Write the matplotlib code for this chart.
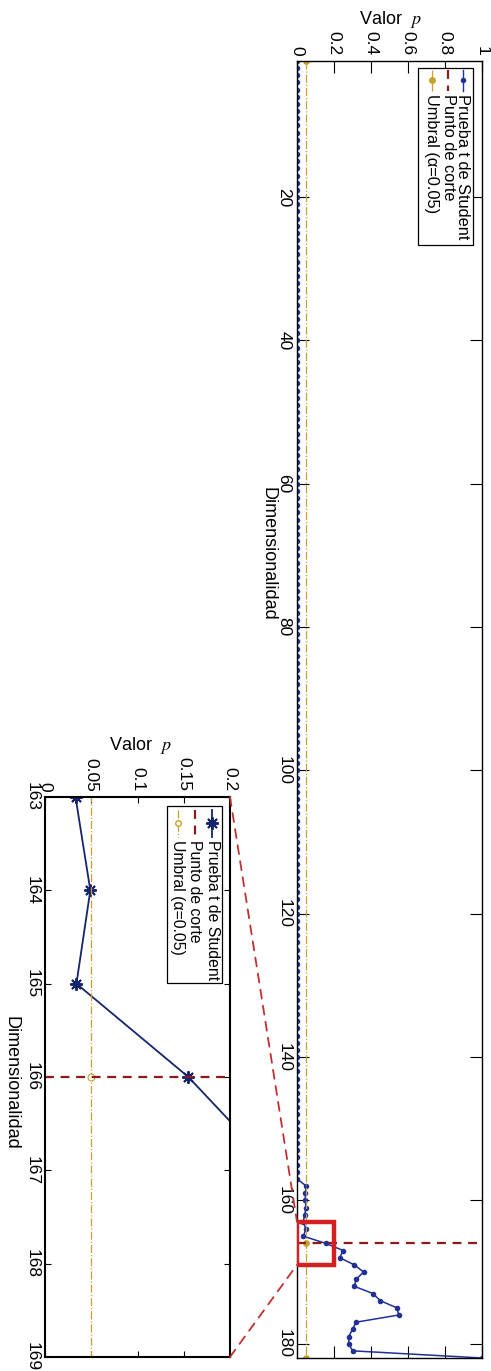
import numpy as np
import matplotlib.pyplot as plt
from matplotlib.patches import Rectangle, ConnectionPatch
from matplotlib.lines import Line2D

plt.rcParams['font.family'] = ['Liberation Sans', 'DejaVu Sans']
plt.rcParams['mathtext.fontset'] = 'stix'

dims = np.arange(1, 183)
# p is ~0 for dimensions 1..157
p_flat = [0.0] * 157
# dimensions 158..182
p_tail = [0.05, 0.045, 0.045, 0.048, 0.042, 0.033, 0.049, 0.034, 0.155,
          0.25, 0.23, 0.31, 0.36, 0.32, 0.31, 0.41, 0.45, 0.54, 0.55,
          0.32, 0.30, 0.28, 0.28, 0.30, 1.0]
p_values = np.array(p_flat + p_tail)

umbral_dims = [1, 166, 182]
umbral_p = [0.05, 0.05, 0.05]
corte_dim = 166
corte_p = [0, 1]

zoom_dims = (163, 169)
zoom_p = (0, 0.2)

main_pticks = [0, 0.2, 0.4, 0.6, 0.8, 1]
main_plabels = ['0', '0.2', '0.4', '0.6', '0.8', '1']
main_dticks = [20, 40, 60, 80, 100, 120, 140, 160, 180]
zoom_pticks = [0, 0.05, 0.1, 0.15, 0.2]
zoom_plabels = ['0', '0.05', '0.1', '0.15', '0.2']
zoom_dticks = [163, 164, 165, 166, 167, 168, 169]

legend_labels = ['Prueba t de Student', 'Punto de corte', 'Umbral (α=0.05)']

BLUE = '#1f3096'
NAVY = '#15246e'
DARKRED = '#8c1b1b'
GOLD = '#c9a02a'
RED = '#d42020'
RED2 = '#c43030'

W, H = 491, 1371


def fx(x):
    return x / W


def fy(y):
    return 1 - y / H


fig = plt.figure(figsize=(W / 100, H / 100), dpi=100)


def style_axes(ax, pticks, plabels, dticks, tick_len, fs, lw):
    ax.set_xticks(pticks)
    ax.set_xticklabels(plabels)
    ax.set_yticks(dticks)
    ax.set_yticklabels([str(d) for d in dticks])
    ax.tick_params(axis='x', direction='in', top=True, bottom=True,
                   labeltop=True, labelbottom=False, length=tick_len,
                   width=0.8, pad=4, labelsize=fs)
    ax.tick_params(axis='y', direction='in', left=True, right=True,
                   length=tick_len, width=0.8, pad=4, labelsize=fs)
    for lbl in ax.get_xticklabels():
        lbl.set_rotation(-90)
    for lbl in ax.get_yticklabels():
        lbl.set_rotation(-90)
        lbl.set_va('center')
    for s in ax.spines.values():
        s.set_linewidth(lw)


def draw_legend(box, xs, y_handle, y_mark, y_text, fs, star=False):
    x0, y0, x1, y1 = box
    fig.add_artist(Rectangle((fx(x0), fy(y1)), fx(x1) - fx(x0),
                             fy(y0) - fy(y1), transform=fig.transFigure,
                             facecolor='white', edgecolor='black', lw=0.9))
    ya, yb = fy(y_handle[0]), fy(y_handle[1])
    # Prueba t de Student
    fig.add_artist(Line2D([fx(xs[0])] * 2, [ya, yb], color=NAVY if star else BLUE,
                          lw=1.3 if star else 1.0, transform=fig.transFigure))
    if star:
        fig.add_artist(Line2D([fx(xs[0])], [fy(y_mark)], color=NAVY,
                              marker=(8, 2, 0), ms=9, mew=1.4,
                              transform=fig.transFigure))
    else:
        fig.add_artist(Line2D([fx(xs[0])], [fy(y_mark)], color=BLUE,
                              marker='o', ms=4, mew=0,
                              transform=fig.transFigure))
    # Punto de corte
    fig.add_artist(Line2D([fx(xs[1])] * 2, [ya, yb], color=DARKRED, lw=1.6,
                          ls=(0, (4, 3)), transform=fig.transFigure))
    # Umbral
    fig.add_artist(Line2D([fx(xs[2])] * 2, [ya, yb], color=GOLD, lw=0.9,
                          ls='-.', transform=fig.transFigure))
    fig.add_artist(Line2D([fx(xs[2])], [fy(y_mark)], color=GOLD, marker='o',
                          ms=4, mfc='white' if star else GOLD, mew=1,
                          transform=fig.transFigure))
    for x, lab in zip(xs, legend_labels):
        fig.text(fx(x), fy(y_text), lab, rotation=-90, rotation_mode='anchor',
                 ha='left', va='center', fontsize=fs)


# ---------------- main axes ----------------
ax = fig.add_axes([fx(297), fy(1358), 185 / W, 1297 / H])
ax.plot(p_values, dims, color=BLUE, lw=1.1, marker='o', ms=4, mew=0)
ax.plot(umbral_p, umbral_dims, color=GOLD, ls='-.', lw=0.9, marker='o',
        ms=4, mfc=GOLD, mew=0.8)
ax.plot(corte_p, [corte_dim] * 2, color=DARKRED, ls=(0, (4, 3)), lw=1.6)
ax.add_patch(Rectangle((zoom_p[0], zoom_dims[0]), zoom_p[1] - zoom_p[0],
                       zoom_dims[1] - zoom_dims[0], fill=False, ec=RED,
                       lw=3.2, zorder=5))
ax.set_xlim(0, 1)
ax.set_ylim(182, 1)
style_axes(ax, main_pticks, main_plabels, main_dticks, 8.5, 12.5, 1.0)

fig.text(fx(390), fy(20), 'Valor  $p$', ha='center', va='center', fontsize=13)
fig.text(fx(268), fy(554), 'Dimensionalidad', rotation=-90, ha='center',
         va='center', fontsize=13)

draw_legend((418, 68, 473, 245), [463, 448, 432], (70, 91), 80, 94, 11.8)

# ---------------- zoom axes ----------------
ax2 = fig.add_axes([fx(45), fy(1357), 185 / W, 560 / H])
ax2.plot(p_values, dims, color=NAVY, lw=1.3, marker=(8, 2, 0), ms=9, mew=1.4)
ax2.plot(umbral_p, umbral_dims, color=GOLD, ls='-.', lw=0.9, marker='o',
         ms=5, mfc='white', mew=0.8)
ax2.plot(corte_p, [corte_dim] * 2, color=DARKRED, ls=(0, (4, 3)), lw=1.6)
ax2.set_xlim(*zoom_p)
ax2.set_ylim(zoom_dims[1], zoom_dims[0])
style_axes(ax2, zoom_pticks, zoom_plabels, zoom_dticks, 4, 12.5, 1.5)

fig.text(fx(140), fy(745), 'Valor  $p$', ha='center', va='center', fontsize=13)
fig.text(fx(11), fy(1083), 'Dimensionalidad', rotation=-90, ha='center',
         va='center', fontsize=13)

draw_legend((167, 806, 222, 983), [212, 195, 178], (810, 837), 823, 840,
            11.3, star=True)

# connector lines from zoom axes to the red box
for d in zoom_dims:
    con = ConnectionPatch(xyA=(zoom_p[1], d), coordsA=ax2.transData,
                          xyB=(zoom_p[0], d), coordsB=ax.transData,
                          color=RED2, lw=1.3, ls=(0, (5, 4)), zorder=6)
    fig.add_artist(con)

fig.savefig('out.png', dpi=100)
